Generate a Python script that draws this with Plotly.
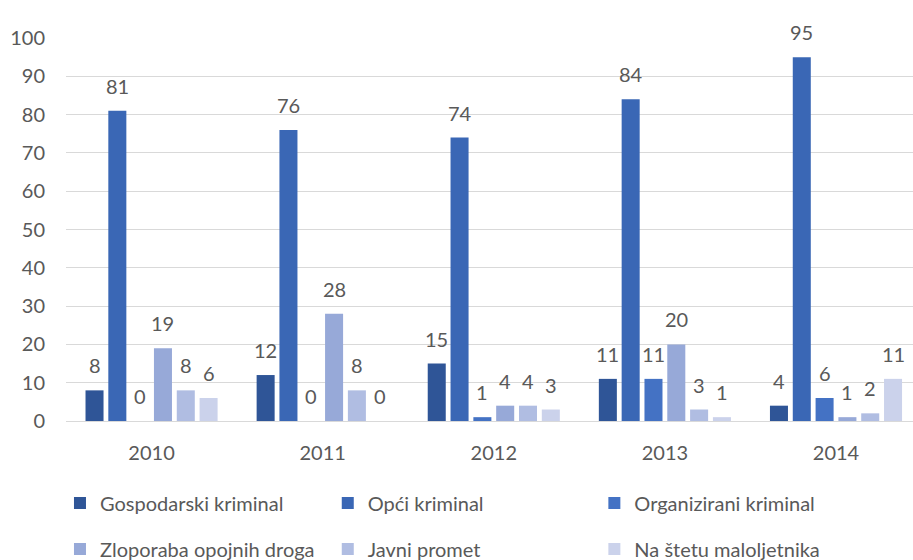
import plotly.graph_objects as go

years = ["2010", "2011", "2012", "2013", "2014"]
series_names = ["Gospodarski kriminal", "Opći kriminal", "Organizirani kriminal",
                "Zloporaba opojnih droga", "Javni promet", "Na štetu maloljetnika"]
gospodarski = [8, 12, 15, 11, 4]
opci = [81, 76, 74, 84, 95]
organizirani = [0, 0, 1, 11, 6]
zloporaba = [19, 28, 4, 20, 1]
javni = [8, 8, 4, 3, 2]
maloljetnici = [6, 0, 3, 1, 11]
colors = ["#2F5597", "#3A67B5", "#4472C4", "#97A9D8", "#B0BDE2", "#CBD2EB"]

values = [gospodarski, opci, organizirani, zloporaba, javni, maloljetnici]
FONT = "Lato, Carlito, Calibri, sans-serif"
GREY = "#595959"
BARGAP = 0.2
BARGROUPGAP = 0.21
n = len(series_names)

# legend placement: (x, y) in container coords for each entry (3 columns x 2 rows)
legend_x = [0.0657, 0.359, 0.651]
legend_y = [0.1018, 0.0196]

fig = go.Figure()
annotations = []
legend_layout = {}
for i, (name, vals, col) in enumerate(zip(series_names, values, colors)):
    lname = "legend" if i == 0 else f"legend{i + 1}"
    fig.add_trace(go.Bar(
        x=years, y=vals, name=name, marker_color=col, marker_line_width=0,
        legend=lname,
    ))
    legend_layout[lname] = dict(
        x=legend_x[i % 3], y=legend_y[i // 3], xref="container", yref="container",
        xanchor="left", yanchor="middle", orientation="h",
        font=dict(family=FONT, size=20, color=GREY),
        bgcolor="rgba(0,0,0,0)", itemclick=False, itemdoubleclick=False,
    )
    offset = (i - (n - 1) / 2) * (1 - BARGAP) / n
    for j, v in enumerate(vals):
        annotations.append(dict(
            x=j + offset, y=v, xref="x", yref="y", text=str(v),
            showarrow=False, yanchor="bottom", yshift=11,
            font=dict(family=FONT, size=20, color=GREY),
        ))

fig.update_layout(
    width=913, height=560,
    margin=dict(l=66, r=0, t=38, b=139, autoexpand=False),
    paper_bgcolor="white", plot_bgcolor="white",
    barmode="group", bargap=BARGAP, bargroupgap=BARGROUPGAP,
    font=dict(family=FONT, color=GREY),
    showlegend=True,
    annotations=annotations,
    **legend_layout,
)
fig.update_xaxes(range=[-0.5, 4.45], showgrid=False, showline=True,
                 linecolor="#D9D9D9", linewidth=1, automargin=False,
                 tickfont=dict(family=FONT, size=20, color=GREY),
                 ticks="", ticklabelstandoff=14)
fig.update_yaxes(range=[0, 100], dtick=10, showgrid=True, gridcolor="#D9D9D9",
                 gridwidth=1, zeroline=False, showline=False, automargin=False,
                 tickfont=dict(family=FONT, size=20, color=GREY),
                 ticklabelstandoff=20)

fig.write_html("out.html", config={"displayModeBar": False},
               post_script="document.body.style.margin='0px';document.body.style.overflow='hidden';")
